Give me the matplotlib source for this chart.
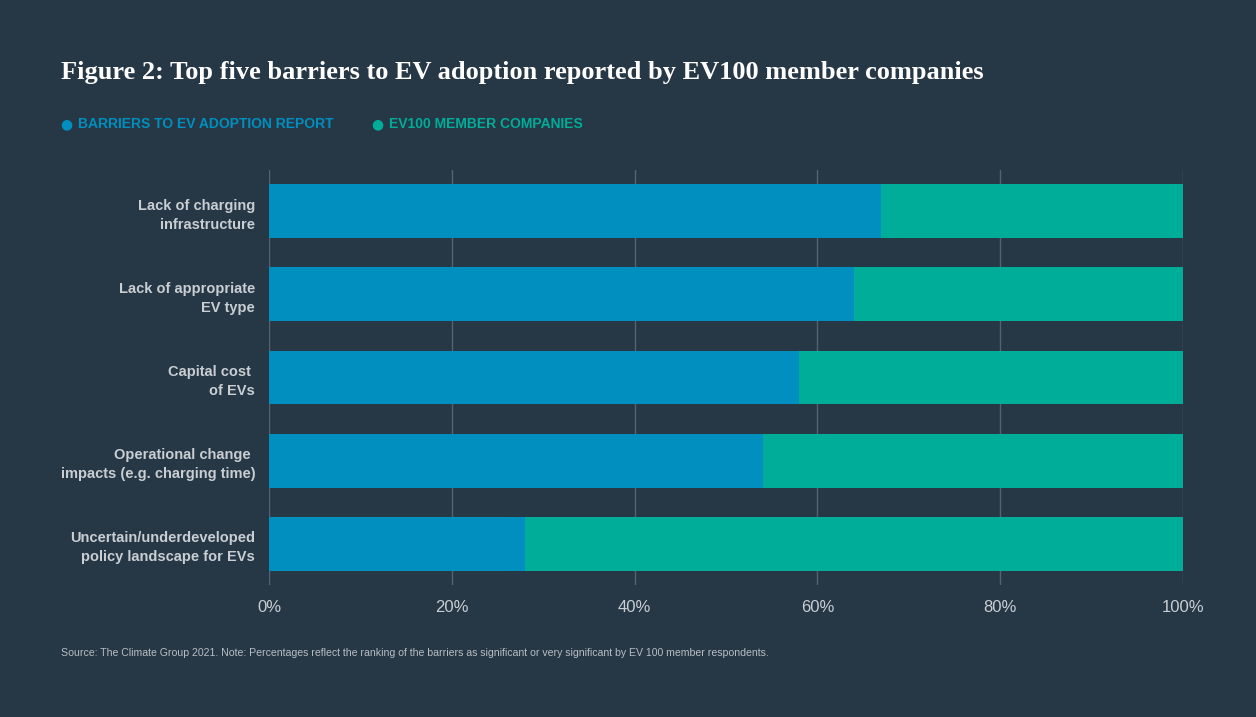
import matplotlib.pyplot as plt

# Datos
categories = [
    "Lack of charging\ninfrastructure",
    "Lack of appropriate\nEV type",
    "Capital cost \nof EVs",
    "Operational change \nimpacts (e.g. charging time)",
    "Uncertain/underdeveloped\npolicy landscape for EVs",
]
report_pct = [67, 64, 58, 54, 28]
member_pct = [33, 36, 42, 46, 72]
xticks = [0, 20, 40, 60, 80, 100]
xtick_labels = ["0%", "20%", "40%", "60%", "80%", "100%"]

bg = "#263746"
blue = "#008fbe"
green = "#00ad98"
txt = "#c9ced3"

fig = plt.figure(figsize=(12.56, 7.17), dpi=100, facecolor=bg)
ax = fig.add_axes([0.2142, 0.184, 0.7277, 0.579])
ax.set_facecolor(bg)

y = list(range(len(categories)))
ax.barh(y, report_pct, height=0.65, color=blue, zorder=3)
ax.barh(y, member_pct, left=report_pct, height=0.65, color=green, zorder=3)

ax.set_xlim(0, 100)
ax.set_ylim(len(categories) - 0.5, -0.5)
ax.set_xticks(xticks)
ax.set_xticklabels(xtick_labels, fontsize=12, color=txt, family="Liberation Sans")
ax.set_yticks(y)
ax.set_yticklabels(categories, fontsize=10.5, color=txt, family="Liberation Sans",
                   fontweight="bold", linespacing=1.45)
ax.tick_params(axis="y", length=0, pad=10)
ax.tick_params(axis="x", length=0, pad=11)
ax.grid(axis="x", color="#55626f", linewidth=1, zorder=0)
for s in ax.spines.values():
    s.set_visible(False)

# Título
fig.text(61 / 1256, 1 - 72 / 717, "Figure 2: Top five barriers to EV adoption reported by EV100 member companies",
         fontsize=19, fontweight="bold", color="white", family="Liberation Serif", va="center")

# Leyenda
ly = 1 - 124 / 717
fig.text(66 / 1256, ly, "\u25CF", color=blue, fontsize=10, ha="center", va="center", family="DejaVu Sans")
fig.text(78 / 1256, ly, "BARRIERS TO EV ADOPTION REPORT", color=blue, fontsize=10,
         fontweight="bold", va="center", family="Liberation Sans")
fig.text(377 / 1256, ly, "\u25CF", color=green, fontsize=10, ha="center", va="center", family="DejaVu Sans")
fig.text(389 / 1256, ly, "EV100 MEMBER COMPANIES", color=green, fontsize=10,
         fontweight="bold", va="center", family="Liberation Sans")

# Fuente
fig.text(61 / 1256, 1 - 653 / 717,
         "Source: The Climate Group 2021. Note: Percentages reflect the ranking of the barriers as significant or very significant by EV 100 member respondents.",
         color="#b8bec4", fontsize=7.6, va="center", family="Liberation Sans")

fig.savefig("out.png", dpi=100, facecolor=bg)
